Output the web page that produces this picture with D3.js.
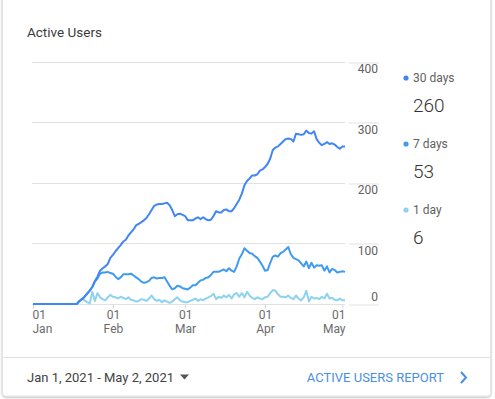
<!DOCTYPE html>
<html>
<head>
<meta charset="utf-8">
<script src="https://cdn.jsdelivr.net/npm/d3@7"></script>
<style>
  body { margin: 0; background: #fff; font-family: Roboto, "Noto Sans", sans-serif; }
  svg text { font-family: Roboto, "Noto Sans", sans-serif; }
</style>
</head>
<body>
<script>
// daily values, Jan 1 2021 .. May 2 2021 (122 days)
const startDate = new Date(2021, 0, 1);
const endDate = new Date(2021, 4, 2);

const users30 = [
  0,0,0,0,0,0,0,0,0,0,0,0,0,0,0,0,0,0,
  5,8,12,17,22,28,38,45,55,59,62,66,76,81,87,92,97,103,106,113,118,123,
  130,132,135,138,142,148,155,162,164,165,165,166,167,163,155,145,148,149,147,145,
  138,138,138,141,143,140,143,140,138,139,145,153,151,151,155,156,153,153,158,165,
  172,182,196,203,207,212,212,214,220,222,226,231,240,254,258,260,264,268,272,273,
  272,268,281,280,279,280,286,282,281,285,272,266,262,264,267,264,265,263,259,256,
  260,260
];
const users7 = [
  0,0,0,0,0,0,0,0,0,0,0,0,0,0,0,0,0,0,
  5,8,12,17,22,28,37,42,50,52,52,53,51,50,45,41,44,49,49,49,50,47,
  44,41,37,35,36,38,43,44,42,43,43,44,37,30,24,26,30,29,26,25,
  24,27,31,31,35,39,40,43,44,48,53,53,53,55,57,54,59,55,53,62,
  75,82,92,88,84,83,79,76,70,63,55,56,68,78,80,78,84,86,90,94,
  82,76,74,72,67,62,70,59,68,60,64,63,64,55,62,52,58,56,52,53,
  54,53
];
const users1 = [
  0,0,0,0,0,0,0,0,0,0,0,0,0,0,0,0,0,0,
  4,9,6,3,1,20,5,18,11,8,6,11,15,12,11,9,12,10,8,11,7,6,
  4,5,8,7,5,9,14,8,5,7,3,6,4,2,4,8,11,6,4,3,
  3,5,7,9,5,8,6,9,11,13,17,8,12,10,14,11,15,9,16,18,
  12,18,11,20,14,10,8,11,9,8,11,12,18,23,22,16,12,12,11,14,
  10,8,14,9,6,11,22,4,12,9,10,8,12,9,17,9,10,7,6,9,
  6,6
];

const seriesNames = ["30 days", "7 days", "1 day"];
const seriesColors = ["#4285f4", "#3f9bf0", "#8dd2ee"];
const yTicks = [0, 100, 200, 300, 400];
const monthTicks = [new Date(2021,0,1), new Date(2021,1,1), new Date(2021,2,1), new Date(2021,3,1), new Date(2021,4,1)];

const W = 495, H = 399;

const svg = d3.select("body").append("svg")
  .attr("width", W)
  .attr("height", H);

const defs = svg.append("defs");
const f = defs.append("filter").attr("id", "shadow").attr("x", "-5%").attr("y", "-5%").attr("width", "110%").attr("height", "110%");
f.append("feDropShadow").attr("dx", 0).attr("dy", 1).attr("stdDeviation", 1.2).attr("flood-color", "#000").attr("flood-opacity", 0.3);

// card
svg.append("rect")
  .attr("x", 2.5).attr("y", -6)
  .attr("width", 488).attr("height", 402)
  .attr("rx", 3)
  .attr("fill", "#fff")
  .attr("stroke", "#e3e3e3")
  .attr("filter", "url(#shadow)");

svg.append("text")
  .attr("x", 27).attr("y", 32)
  .attr("dy", "0.35em")
  .style("font-size", "13.5px")
  .attr("fill", "#3c3c3c")
  .text("Active Users");

const x = d3.scaleTime().domain([startDate, endDate]).range([33, 345]);
const y = d3.scaleLinear().domain([0, 400]).range([304, 61.5]);

// gridlines
const grid = svg.append("g");
grid.selectAll("line.g").data(yTicks).enter().append("line")
  .attr("x1", 32).attr("x2", 345)
  .attr("y1", d => Math.round(y(d)) + 0.5).attr("y2", d => Math.round(y(d)) + 0.5)
  .attr("stroke", "#e2e2e2");

// right axis
const yAxis = d3.axisRight(y).tickValues(yTicks).tickSize(0).tickFormat(d3.format("d"));
const ya = svg.append("g").attr("transform", "translate(349,0)").call(yAxis);
ya.select(".domain").remove();
ya.selectAll(".tick").each(function(d) {
  const t = d3.select(this);
  t.select("line").attr("x2", 30).attr("stroke", "#e2e2e2")
    .attr("transform", "translate(0," + ((Math.round(y(d)) + 0.5) - y(d)) + ")");
  t.select("text")
    .attr("x", 29).attr("text-anchor", "end")
    .attr("dy", d === 0 ? "-0.3em" : "0.92em")
    .attr("fill", "#616161")
    .style("font-size", "12px");
});

// bottom axis
const fmtMon = d3.timeFormat("%b");
const xAxis = d3.axisBottom(x).tickValues(monthTicks).tickSize(4).tickFormat(d3.timeFormat("%d"));
const xa = svg.append("g").attr("transform", "translate(0,304.5)").call(xAxis);
xa.select(".domain").remove();
xa.selectAll(".tick line").attr("stroke", "#d6d6d6");
xa.selectAll(".tick text").remove();
xa.selectAll(".tick").each(function(d, i) {
  const t = d3.select(this);
  // first label hugs the left edge, last one the right edge
  const anchor = i === 0 ? "start" : (i === monthTicks.length - 1 ? "end" : "middle");
  const dx = i === 0 ? -1 : (i === monthTicks.length - 1 ? 345 - x(d) : 0);
  t.append("text").attr("x", dx).attr("y", 10.5).attr("dy", "0.35em")
    .attr("text-anchor", anchor).attr("fill", "#6b6b6b").style("font-size", "12px")
    .text(d3.timeFormat("%d")(d));
  t.append("text").attr("x", dx).attr("y", 24.5).attr("dy", "0.35em")
    .attr("text-anchor", anchor).attr("fill", "#6b6b6b").style("font-size", "12px")
    .text(fmtMon(d));
});

// lines
const line = d3.line()
  .x((d, i) => x(d3.timeDay.offset(startDate, i)))
  .y(d => y(d));

[users1, users7, users30].forEach((s, k) => {
  const idx = 2 - k;
  svg.append("path")
    .datum(s)
    .attr("fill", "none")
    .attr("stroke", seriesColors[idx])
    .attr("stroke-width", 2)
    .attr("stroke-linejoin", "round")
    .attr("d", line);
});

// legend
const lastVals = [users30[users30.length - 1], users7[users7.length - 1], users1[users1.length - 1]];
const legend = svg.selectAll(".legend").data(seriesNames).enter().append("g")
  .attr("class", "legend")
  .attr("transform", (d, i) => "translate(406," + (78 + i * 66) + ")");
legend.append("circle").attr("r", 2.6).attr("fill", (d, i) => seriesColors[i]);
legend.append("text").attr("x", 7).attr("dy", "0.35em")
  .style("font-size", "12px").attr("fill", "#5f5f5f").text(d => d);
legend.append("text").attr("x", 7).attr("y", 27).attr("dy", "0.35em")
  .style("font-size", "19px").style("font-weight", 300).attr("fill", "#333")
  .text((d, i) => lastVals[i]);

// footer
svg.append("line").attr("x1", 3).attr("x2", 490).attr("y1", 357.5).attr("y2", 357.5).attr("stroke", "#e2e2e2");
svg.append("text").attr("x", 27).attr("y", 377).attr("dy", "0.35em")
  .style("font-size", "13px").attr("fill", "#424242")
  .text("Jan 1, 2021 - May 2, 2021");
svg.append("path").attr("d", "M180,374.5 L189,374.5 L184.5,379.5 Z").attr("fill", "#555");
svg.append("text").attr("x", 444).attr("y", 377).attr("dy", "0.35em")
  .attr("text-anchor", "end")
  .style("font-size", "13px").attr("fill", "#4a90e2")
  .text("ACTIVE USERS REPORT");
svg.append("path").attr("d", "M461,372 L466,377.5 L461,383")
  .attr("fill", "none").attr("stroke", "#4a90e2").attr("stroke-width", 2);
</script>
</body>
</html>
